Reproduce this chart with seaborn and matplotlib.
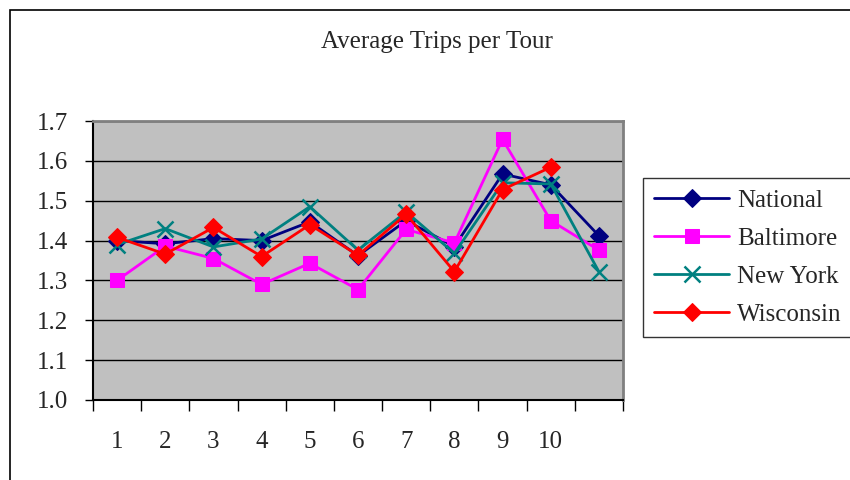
import numpy as np
import pandas as pd
import seaborn as sns
import matplotlib.patches as mpatches
from matplotlib import pyplot as plt

# data
tours = list(range(1, 12))
national = [1.400, 1.392, 1.405, 1.400, 1.447, 1.362, 1.450, 1.385, 1.567, 1.540, 1.412]
baltimore = [1.300, 1.386, 1.355, 1.290, 1.343, 1.277, 1.428, 1.394, 1.654, 1.450, 1.376]
new_york = [1.390, 1.430, 1.384, 1.404, 1.485, 1.376, 1.472, 1.368, 1.545, 1.542, 1.322]
wisconsin = [1.408, 1.366, 1.433, 1.360, 1.440, 1.363, 1.466, 1.322, 1.528, 1.584, np.nan]
x_labels = [str(i) for i in range(1, 11)]

series = {'National': national, 'Baltimore': baltimore, 'New York': new_york, 'Wisconsin': wisconsin}
df = pd.concat([pd.DataFrame({'Tour': tours, 'Trips': v, 'Series': k}) for k, v in series.items()])
df = df.dropna()

palette = {'National': '#000080', 'Baltimore': '#FF00FF', 'New York': '#008080', 'Wisconsin': '#FF0000'}

sns.set_style('white')
plt.rcParams['font.family'] = ['Liberation Serif', 'DejaVu Serif']

fig = plt.figure(figsize=(8.5, 4.8), dpi=100)
ax = fig.add_axes([93 / 850, 80 / 480, 530 / 850, 279 / 480])
ax.set_facecolor('#C0C0C0')

for name in series:
    sub = df[df['Series'] == name]
    if name == 'Baltimore':
        kw = dict(marker='s', markersize=10)
    elif name == 'New York':
        kw = dict(marker='x', markersize=11, markeredgewidth=1.8)
    else:
        kw = dict(marker='D', markersize=9)
    sns.lineplot(data=sub, x='Tour', y='Trips', ax=ax, color=palette[name], label=name,
                 linewidth=2, markeredgecolor=palette[name], **kw)

ax.set_xlim(0.5, 11.5)
ax.set_ylim(1.0, 1.7)
ax.set_yticks(np.arange(1.0, 1.71, 0.1))
ax.set_yticklabels([f'{v:.1f}' for v in np.arange(1.0, 1.71, 0.1)], fontsize=18)
ax.yaxis.grid(True, color='black', linewidth=1)
ax.set_axisbelow(True)

ax.set_xticks(np.arange(0.5, 11.6, 1.0))
ax.set_xticklabels([])
ax.set_xticks(range(1, 11), minor=True)
ax.set_xticklabels(x_labels, minor=True, fontsize=18)
ax.tick_params(axis='x', which='major', direction='out', length=8, width=1, color='black', bottom=True)
ax.tick_params(axis='x', which='minor', length=0, pad=22)
ax.tick_params(axis='y', direction='out', length=6, width=1, color='black', left=True, pad=12)
ax.set_xlabel('')
ax.set_ylabel('')

for side in ['left', 'bottom']:
    ax.spines[side].set_color('black')
    ax.spines[side].set_linewidth(1.5)
for side in ['top', 'right']:
    ax.spines[side].set_color('#808080')
    ax.spines[side].set_linewidth(2)

ax.legend_.remove()
handles, labels = ax.get_legend_handles_labels()
leg = fig.legend(handles, labels, loc='upper left', bbox_to_anchor=(643 / 850, 1 - 178 / 480),
                 fontsize=18, frameon=True, fancybox=False, edgecolor='black', borderaxespad=0,
                 handlelength=3.0, labelspacing=0.62, borderpad=0.45, handletextpad=0.3)
leg.get_frame().set_linewidth(1)

fig.text(437 / 850, 1 - 42 / 480, 'Average Trips per Tour', ha='center', va='center', fontsize=18)

fig.patches.append(mpatches.Rectangle((10 / 850, -0.05), 1.1, 0.05 + 1 - 10 / 480, transform=fig.transFigure,
                                      fill=False, edgecolor='black', linewidth=1.2))

fig.savefig('out.png', dpi=100)
